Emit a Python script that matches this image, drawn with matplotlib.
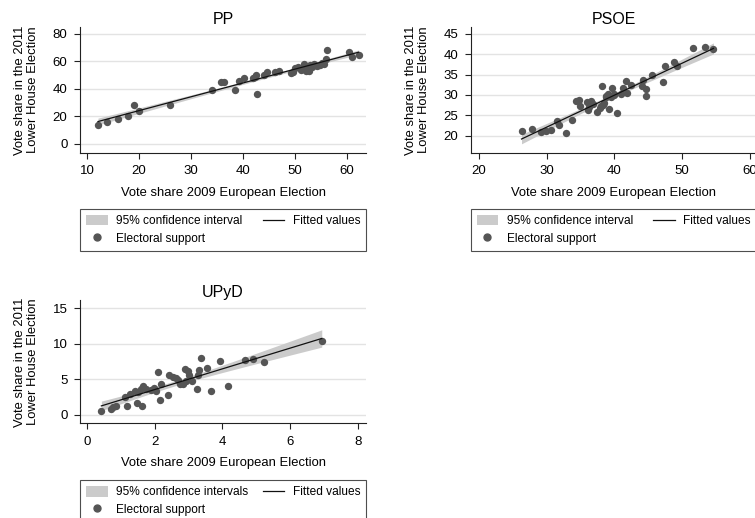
import numpy as np
import matplotlib
matplotlib.use("Agg")
import matplotlib.pyplot as plt
from matplotlib.patches import Patch
from matplotlib.lines import Line2D

plt.rcParams['font.family'] = ['Liberation Sans', 'DejaVu Sans']

# PP
pp_x = [12.1, 13.8, 16.0, 17.8, 19.0, 19.9, 26.0, 34.0, 35.8, 36.4, 38.4, 39.3, 40.1,
        41.9, 42.3, 42.5, 42.6, 44.1, 44.6, 46.2, 46.8, 49.2, 49.6, 50.0, 50.6, 51.1,
        51.5, 51.7, 52.0, 52.4, 52.6, 52.9, 53.3, 53.7, 54.2, 54.7, 55.1, 55.5, 56.0,
        56.1, 60.3, 60.9, 62.2]
pp_y = [14.0, 16.2, 18.0, 20.1, 27.9, 24.2, 27.9, 38.8, 44.8, 45.3, 39.0, 45.8, 47.8,
        47.8, 48.5, 49.7, 36.1, 50.2, 52.6, 51.9, 53.1, 51.4, 52.5, 55.0, 55.8, 54.0,
        56.2, 58.3, 53.0, 55.5, 53.1, 57.5, 56.0, 58.2, 56.5, 57.5, 58.6, 57.7, 61.6,
        68.1, 67.1, 62.8, 64.9]

# PSOE
psoe_x = [26.3, 27.9, 29.2, 29.9, 30.7, 31.6, 31.9, 32.9, 33.7, 34.4, 34.9, 34.8, 35.9,
          36.1, 36.3, 36.5, 36.8, 37.5, 37.8, 38.0, 38.1, 38.3, 38.5, 38.7, 38.8, 39.0,
          39.2, 39.5, 39.7, 39.9, 40.0, 40.4, 40.9, 41.2, 41.7, 41.9, 42.4, 44.0, 44.2,
          44.6, 44.6, 45.6, 47.1, 47.4, 48.8, 49.2, 51.6, 53.3, 54.6]
psoe_y = [21.2, 21.6, 20.9, 21.2, 21.5, 23.5, 22.7, 20.7, 23.8, 28.6, 27.2, 28.8, 28.3,
          26.4, 27.0, 28.6, 27.8, 25.8, 26.9, 27.3, 32.3, 27.6, 28.0, 29.4, 29.8, 30.3,
          26.6, 29.5, 31.8, 30.0, 30.3, 25.6, 30.2, 31.7, 33.5, 30.5, 32.5, 32.1, 33.7,
          31.5, 29.7, 34.8, 33.3, 37.0, 38.1, 37.0, 41.5, 41.8, 41.2]

# UPyD
upyd_x = [0.43, 0.70, 0.77, 0.87, 1.14, 1.19, 1.26, 1.41, 1.49, 1.52, 1.60, 1.64, 1.66,
          1.75, 1.90, 1.97, 2.03, 2.11, 2.15, 2.20, 2.38, 2.42, 2.54, 2.64, 2.69, 2.74,
          2.84, 2.89, 2.94, 2.99, 3.02, 3.09, 3.26, 3.28, 3.31, 3.38, 3.55, 3.66, 3.93,
          4.17, 4.66, 4.91, 5.23, 6.93]
upyd_y = [0.5, 0.8, 1.1, 1.2, 2.5, 1.3, 2.9, 3.4, 1.6, 3.2, 3.7, 1.3, 4.1,
          3.6, 3.5, 3.8, 3.4, 6.0, 2.1, 4.3, 2.8, 5.6, 5.3, 5.2, 4.9, 4.4,
          4.4, 6.4, 4.8, 6.1, 5.6, 4.7, 3.7, 5.6, 6.3, 8.0, 6.6, 3.4, 7.6,
          4.0, 7.7, 7.8, 7.4, 10.4]

x_label = "Vote share 2009 European Election"
y_label = "Vote share in the 2011\nLower House Election"

panels = [
    dict(title="PP", x=pp_x, y=pp_y, xticks=[10, 20, 30, 40, 50, 60],
         yticks=[0, 20, 40, 60, 80], xlim=(8.65, 63.65), ylim=(-6.5, 85),
         pos=[0.106, 0.705, 0.379, 0.243], ci_label="95% confidence interval",
         leg_top=-0.445),
    dict(title="PSOE", x=psoe_x, y=psoe_y, xticks=[20, 30, 40, 50, 60],
         yticks=[20, 25, 30, 35, 40, 45], xlim=(18.8, 61.0), ylim=(15.8, 46.7),
         pos=[0.6234, 0.705, 0.379, 0.243], ci_label="95% confidence interval",
         leg_top=-0.445),
    dict(title="UPyD", x=upyd_x, y=upyd_y, xticks=[0, 2, 4, 6, 8],
         yticks=[0, 5, 10, 15], xlim=(-0.2, 8.24), ylim=(-1.17, 16.07),
         pos=[0.106, 0.183, 0.379, 0.237], ci_label="95% confidence intervals",
         leg_top=-0.4625),
]

fig = plt.figure(figsize=(7.55, 5.18), dpi=100)

for p in panels:
    ax = fig.add_axes(p["pos"])
    x = np.array(p["x"])
    y = np.array(p["y"])

    # OLS fit and 95% CI of the mean
    b, a = np.polyfit(x, y, 1)
    n = len(x)
    resid = y - (a + b * x)
    s = np.sqrt(np.sum(resid**2) / (n - 2))
    sxx = np.sum((x - x.mean())**2)
    xs = np.linspace(x.min(), x.max(), 100)
    yh = a + b * xs
    se = s * np.sqrt(1.0 / n + (xs - x.mean())**2 / sxx)
    ax.fill_between(xs, yh - 2.01 * se, yh + 2.01 * se, color="#cbcbcb", lw=0, zorder=2)
    ax.scatter(x, y, s=28, color="#555555", lw=0, zorder=3)
    ax.plot(xs, yh, color="#111111", lw=0.9, zorder=4)

    ax.set_xlim(p["xlim"])
    ax.set_ylim(p["ylim"])
    ax.set_xticks(p["xticks"])
    ax.set_yticks(p["yticks"])
    ax.yaxis.grid(True, color="#e3e3e3", lw=1.0)
    ax.set_axisbelow(True)
    for sp in ["top", "right"]:
        ax.spines[sp].set_visible(False)
    for sp in ["left", "bottom"]:
        ax.spines[sp].set_linewidth(0.8)
        ax.spines[sp].set_color("#222222")
    ax.tick_params(direction="out", length=4, width=0.8, color="#222222",
                   labelsize=9.5, pad=5)
    ax.set_title(p["title"], fontsize=11.5, pad=2)
    ax.set_xlabel(x_label, fontsize=9.4, labelpad=7)
    ax.set_ylabel(y_label, fontsize=9.4, labelpad=10, linespacing=1.05)

    handles = [Patch(facecolor="#cbcbcb", edgecolor="none"),
               Line2D([], [], marker="o", ls="none", color="#555555", markersize=5),
               Line2D([], [], color="#111111", lw=0.9)]
    labels = [p["ci_label"], "Electoral support", "Fitted values"]
    leg = ax.legend(handles, labels, ncol=2, loc="upper left", mode="expand",
                    bbox_to_anchor=(0, p["leg_top"], 1, 0), fontsize=8.6,
                    frameon=True, fancybox=False, edgecolor="#222222",
                    handlelength=1.8, handleheight=1.0, handletextpad=0.7,
                    columnspacing=1.0, labelspacing=0.45, borderpad=0.5,
                    borderaxespad=0)
    leg.get_frame().set_linewidth(0.8)

fig.savefig("out.png", dpi=100)
